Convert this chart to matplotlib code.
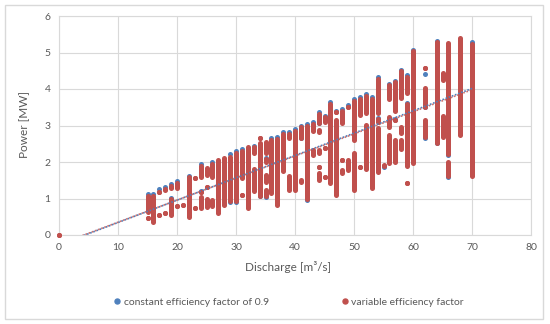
import matplotlib
matplotlib.use("Agg")
import matplotlib.pyplot as plt
from matplotlib.lines import Line2D
from matplotlib.patches import Rectangle

# discharge [m3/s] and the vertical runs of points (low, high) in MW, variable efficiency factor
discharge = [0, 15, 16, 17, 18, 19, 20, 21, 22, 23, 24, 25, 26, 27, 28, 29, 30,
             31, 32, 33, 34, 35, 36, 37, 38, 39, 40, 41, 42, 43, 44, 45, 46, 47,
             48, 49, 50, 51, 52, 53, 54, 55, 56, 57, 58, 59, 60, 62, 64, 65, 66,
             68, 70]
power_runs = [
    [(0, 0)],
    [(0.64, 1.06), (0.47, 0.47)],
    [(0.35, 1.06)],
    [(1.17, 1.19), (0.55, 0.55)],
    [(1.24, 1.26), (0.60, 0.60)],
    [(1.30, 1.34), (0.55, 0.98)],
    [(1.30, 1.42), (0.80, 0.80)],
    [(0.82, 0.82)],
    [(0.50, 1.58)],
    [(1.55, 1.55), (0.75, 0.75)],
    [(1.60, 1.90), (1.18, 1.18), (0.75, 1.05)],
    [(1.64, 1.83), (1.32, 1.32), (0.78, 1.00)],
    [(1.60, 1.94), (0.80, 0.97)],
    [(0.60, 2.05)],
    [(0.82, 2.10)],
    [(0.94, 2.15)],
    [(0.94, 2.24)],
    [(1.55, 2.31), (1.10, 1.10)],
    [(0.73, 2.42)],
    [(2.24, 2.40), (1.20, 1.82)],
    [(2.65, 2.65), (1.08, 2.51)],
    [(2.24, 2.56), (2.00, 2.07), (1.46, 1.64), (1.08, 1.23)],
    [(1.14, 2.60)],
    [(0.82, 2.63)],
    [(1.74, 2.76)],
    [(2.65, 2.76), (1.23, 1.62)],
    [(1.23, 2.86)],
    [(2.67, 2.95), (1.45, 1.51)],
    [(1.00, 2.99)],
    [(2.85, 3.04), (2.19, 2.33)],
    [(3.06, 3.31), (2.83, 2.88), (2.24, 2.33), (1.87, 1.87), (1.50, 1.69)],
    [(3.10, 3.22), (2.37, 2.37), (1.60, 1.60)],
    [(1.42, 3.59)],
    [(3.38, 3.38), (1.10, 3.15)],
    [(3.06, 3.40), (2.06, 2.06), (1.69, 1.78)],
    [(3.50, 3.50), (1.78, 2.06)],
    [(2.60, 3.68), (1.23, 2.24)],
    [(3.29, 3.72), (1.85, 1.85)],
    [(3.33, 3.82), (1.82, 3.01)],
    [(1.28, 3.72)],
    [(3.33, 4.27), (3.10, 3.19), (1.73, 2.92)],
    [(1.88, 1.92)],
    [(3.72, 4.11), (2.97, 3.24), (1.97, 2.74)],
    [(3.40, 4.20), (3.15, 3.15), (2.00, 2.60)],
    [(3.75, 4.48), (2.80, 2.95), (2.35, 2.60)],
    [(3.88, 4.34), (1.88, 3.59), (1.42, 1.42)],
    [(1.97, 5.05)],
    [(4.57, 4.57), (3.52, 4.02), (2.68, 3.15)],
    [(2.53, 5.30)],
    [(4.25, 4.45), (2.68, 3.25)],
    [(2.22, 5.25), (1.62, 2.01)],
    [(2.74, 5.39)],
    [(1.62, 5.22)],
]

# constant efficiency factor (0.9): only the points that show beside the red ones
const_q = [15, 16, 17, 18, 19, 19, 20, 22, 24, 24, 26, 29, 29, 30, 30, 31, 33, 34,
           35, 35, 36, 37, 38, 39, 39, 40, 41, 41, 42, 42, 43, 44, 45, 46, 47, 48,
           49, 50, 51, 52, 53, 54, 55, 56, 57, 58, 59, 59, 62, 62, 62, 64, 65, 66,
           66, 70, 70, 70, 70, 70, 60, 28, 44, 54, 57, 64]
const_p = [1.11, 1.11, 1.25, 1.32, 1.39, 1.01, 1.47, 1.63, 1.21, 1.95, 1.99, 2.21,
           0.91, 2.29, 0.91, 2.36, 2.45, 1.06, 2.11, 1.05, 2.66, 2.69, 2.81, 2.81,
           1.60, 2.91, 3.00, 2.65, 3.04, 0.97, 3.09, 3.36, 3.27, 3.64, 3.41, 3.45,
           3.55, 3.73, 3.77, 3.87, 3.77, 4.32, 1.86, 4.14, 4.23, 4.51, 4.37, 3.62,
           4.42, 3.50, 2.66, 2.51, 4.31, 2.20, 1.60, 5.28, 5.22, 4.20, 2.30, 2.20,
           5.08, 0.85, 3.08, 3.21, 3.17, 5.32]

# linear trend lines (slope, intercept)
trend_const = (0.0612, -0.27)
trend_var = (0.0605, -0.255)

blue = "#4F81BD"
red = "#C0504D"
grey = "#595959"

plt.rcParams["font.family"] = ["Lato", "DejaVu Sans"]
fig = plt.figure(figsize=(5.5, 3.24), dpi=100)
fig.patches.append(Rectangle((5 / 550, 5 / 324), 538 / 550, 314 / 324, transform=fig.transFigure,
                             fill=False, edgecolor="#D9D9D9", linewidth=1))
ax = fig.add_axes([59 / 550, 1 - 235 / 324, 472 / 550, 219 / 324])

ax.scatter(const_q, const_p, s=13, color=blue, linewidths=0, zorder=3, clip_on=False)

xs, lows, highs = [], [], []
for q, runs in zip(discharge, power_runs):
    for lo, hi in runs:
        xs.append(q)
        lows.append(lo)
        highs.append(hi)
ax.vlines(xs, lows, highs, color=red, linewidth=3.6, zorder=4)
ax.scatter(xs + xs, lows + highs, s=13, color=red, linewidths=0, zorder=4, clip_on=False)

tx = [0, 70]
ax.plot(tx, [trend_const[0] * t + trend_const[1] for t in tx], color=blue,
        linestyle=(0, (1, 1)), linewidth=1.2, zorder=5)
ax.plot(tx, [trend_var[0] * t + trend_var[1] for t in tx], color=red,
        linestyle=(1, (1, 1)), linewidth=1.2, alpha=0.8, zorder=5)

ax.set_xlim(0, 80)
ax.set_ylim(0, 6)
ax.set_xticks(range(0, 81, 10))
ax.set_yticks(range(0, 7))
ax.grid(True, color="#D9D9D9", linewidth=0.8)
ax.set_axisbelow(True)
for s in ax.spines.values():
    s.set_color("#D9D9D9")
    s.set_linewidth(0.8)
ax.tick_params(length=0, labelsize=7.5, colors=grey, pad=6)

fig.text(25 / 550, 1 - 125 / 324, "Power [MW]", rotation=90, ha="center", va="center",
         fontsize=8.5, color=grey)
fig.text(288 / 550, 1 - 267 / 324, "Discharge [m³/s]", ha="center", va="center",
         fontsize=8.5, color=grey)

handles = [Line2D([], [], marker="o", linestyle="", color=blue, markersize=3.6),
           Line2D([], [], marker="o", linestyle="", color=red, markersize=3.6)]
fig.legend(handles, ["constant efficiency factor of 0.9", "variable efficiency factor"],
           loc="center", bbox_to_anchor=(288 / 550, 1 - 302 / 324), ncol=2, frameon=False,
           fontsize=7.5, labelcolor=grey, handletextpad=0.1, columnspacing=6.8, handlelength=1)

fig.savefig("out.png", dpi=100)
